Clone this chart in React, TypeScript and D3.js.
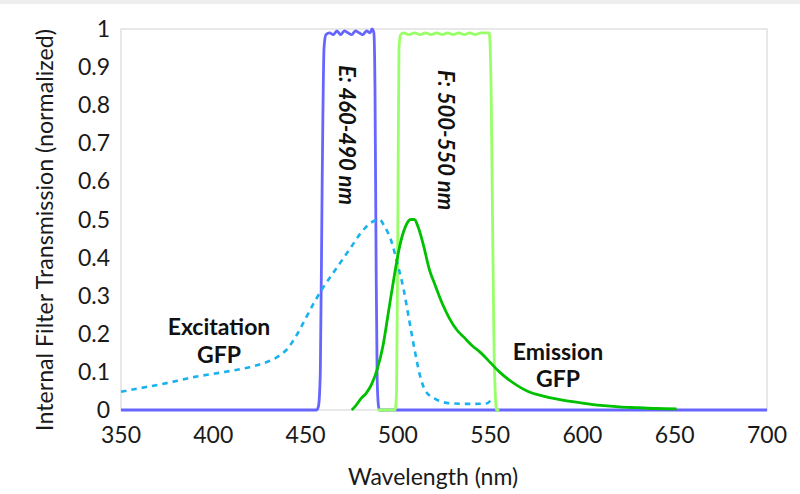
import React from "react";
import * as d3 from "d3";

// x / y tick values
const xTicks = [350, 400, 450, 500, 550, 600, 650, 700];
const yTicks = [0, 0.1, 0.2, 0.3, 0.4, 0.5, 0.6, 0.7, 0.8, 0.9, 1];

// Filter E (460-490 nm)
const filterEWl = [350, 456, 457, 458, 459, 460, 461, 463, 465, 467, 469, 471, 473, 475, 477, 479, 481, 483, 485, 486, 487, 487.6, 488.2, 488.8, 489.5, 490, 700];
const filterEVal = [0, 0, 0.01, 0.1, 0.6, 0.95, 0.985, 0.99, 0.985, 0.995, 0.985, 0.995, 0.99, 0.985, 0.995, 0.99, 0.985, 0.995, 0.99, 1.0, 0.99, 0.85, 0.4, 0.08, 0.01, 0, 0];

// Filter F (500-550 nm)
const filterFWl = [489, 498.5, 499.3, 500, 500.6, 501.5, 503, 506, 509, 512, 515, 518, 521, 524, 527, 530, 533, 536, 539, 542, 545, 548, 549.5, 550.5, 551.3, 552, 552.8, 553.5, 555];
const filterFVal = [0, 0, 0.05, 0.5, 0.95, 0.985, 0.99, 0.985, 0.99, 0.985, 0.99, 0.985, 0.99, 0.985, 0.99, 0.985, 0.99, 0.985, 0.99, 0.985, 0.99, 0.99, 0.99, 0.85, 0.5, 0.2, 0.04, 0, 0];

// GFP excitation spectrum
const excitWl = [350, 360, 370, 380, 390, 400, 410, 420, 430, 435, 440, 445, 450, 455, 460, 465, 470, 475, 480, 485, 490, 493, 496, 500, 503, 506, 509, 512, 515, 520, 525, 530, 540, 548, 551];
const excitVal = [0.048, 0.057, 0.066, 0.076, 0.087, 0.095, 0.103, 0.113, 0.128, 0.14, 0.16, 0.195, 0.24, 0.285, 0.325, 0.36, 0.395, 0.43, 0.465, 0.49, 0.5, 0.48, 0.45, 0.38, 0.32, 0.24, 0.16, 0.09, 0.05, 0.03, 0.02, 0.017, 0.016, 0.017, 0.03];

// GFP emission spectrum
const emisWl = [475, 477, 480, 483, 486, 489, 492, 495, 498, 501, 504, 507, 509, 511, 514, 517, 520, 524, 528, 532, 536, 540, 545, 550, 555, 560, 570, 580, 590, 600, 610, 620, 630, 640, 651];
const emisVal = [0, 0.01, 0.03, 0.045, 0.07, 0.11, 0.17, 0.26, 0.35, 0.43, 0.48, 0.5, 0.5, 0.48, 0.43, 0.37, 0.33, 0.28, 0.24, 0.21, 0.19, 0.17, 0.15, 0.125, 0.1, 0.08, 0.05, 0.035, 0.025, 0.018, 0.012, 0.008, 0.006, 0.004, 0.003];

const W = 800;
const H = 494;
const margin = { top: 29, right: 33, bottom: 84, left: 121 };
const FONT = "Lato, 'Open Sans', sans-serif";

const zip = (xs: number[], ys: number[]) => xs.map((x, i) => [x, ys[i]] as [number, number]);

export default function App() {
  const x = d3.scaleLinear().domain([350, 700]).range([margin.left, W - margin.right]);
  const y = d3.scaleLinear().domain([0, 1]).range([H - margin.bottom, margin.top]);

  const line = d3.line<[number, number]>().x((d) => x(d[0])).y((d) => y(d[1])).curve(d3.curveMonotoneX);

  const x0 = margin.left;
  const x1 = W - margin.right;
  const y0 = H - margin.bottom;
  const y1 = margin.top;

  return (
    <svg width={W} height={H} style={{ position: "absolute", left: 0, top: 0, background: "#fff" }} fontFamily={FONT}>
      <rect x={0} y={0} width={W} height={4} fill="#eeeeee" />
      <rect x={x0} y={y1} width={x1 - x0} height={y0 - y1} fill="none" stroke="#d9d9d9" strokeWidth={1.2} />

      {/* y tick labels */}
      {yTicks.map((t) => (
        <text key={t} x={110} y={y(t)} dy="0.35em" textAnchor="end" fontSize={23} fill="#1a1a1a">
          {d3.format("~g")(t)}
        </text>
      ))}
      {/* x tick labels */}
      {xTicks.map((t) => (
        <text key={t} x={x(t)} y={435} dy="0.35em" textAnchor="middle" fontSize={23} fill="#1a1a1a">
          {t}
        </text>
      ))}

      <text transform={`translate(45, 230) rotate(-90)`} textAnchor="middle" dy="0.35em" fontSize={23.2} fill="#1a1a1a">
        Internal Filter Transmission (normalized)
      </text>
      <text x={433} y={485} textAnchor="middle" fontSize={23} fill="#1a1a1a">
        Wavelength (nm)
      </text>

      <path d={line(zip(filterEWl, filterEVal)) || ""} fill="none" stroke="#6666ff" strokeWidth={2.8} />
      <path d={line(zip(filterFWl, filterFVal)) || ""} fill="none" stroke="#99ff66" strokeWidth={2.8} />
      <path d={line(zip(excitWl, excitVal)) || ""} fill="none" stroke="#1ab2ee" strokeWidth={2.6} strokeDasharray="5.5,5" />
      <path d={line(zip(emisWl, emisVal)) || ""} fill="none" stroke="#00c000" strokeWidth={2.8} />

      <text transform="translate(347, 135) rotate(90)" textAnchor="middle" dy="0.35em" fontSize={22} fontWeight="bold" fontStyle="italic" fill="#111">
        E: 460-490 nm
      </text>
      <text transform="translate(446, 140) rotate(90)" textAnchor="middle" dy="0.35em" fontSize={22} fontWeight="bold" fontStyle="italic" fill="#111">
        F: 500-550 nm
      </text>

      <text x={219} y={335} textAnchor="middle" fontSize={23} fontWeight="bold" fill="#111">Excitation</text>
      <text x={219} y={363} textAnchor="middle" fontSize={23} fontWeight="bold" fill="#111">GFP</text>
      <text x={558} y={360} textAnchor="middle" fontSize={23} fontWeight="bold" fill="#111">Emission</text>
      <text x={558} y={387} textAnchor="middle" fontSize={23} fontWeight="bold" fill="#111">GFP</text>
    </svg>
  );
}
